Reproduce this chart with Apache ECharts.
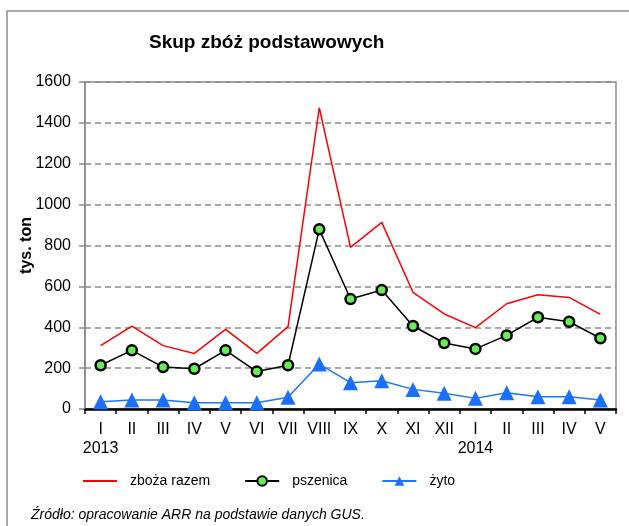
<!DOCTYPE html>
<html>
<head>
<meta charset="utf-8">
<script src="https://cdn.jsdelivr.net/npm/echarts@6/dist/echarts.min.js"></script>
<style>
  html, body { margin: 0; padding: 0; background: #fff; }
  #chart { width: 629px; height: 526px; }
</style>
</head>
<body>
<div id="chart"></div>
<script>
// miesiace: 2013 I-XII, 2014 I-V
var months = ['I\n2013', 'II', 'III', 'IV', 'V', 'VI', 'VII', 'VIII', 'IX', 'X', 'XI', 'XII',
              'I\n2014', 'II', 'III', 'IV', 'V'];
var zbozaRazem = [310, 405, 310, 272, 390, 272, 403, 1474, 791, 913, 571, 465, 398, 515, 559, 546, 463];
var pszenica = [214, 287, 205, 197, 287, 183, 214, 879, 538, 582, 406, 323, 294, 360, 449, 427, 346];
var zyto = [36, 44, 44, 31, 31, 31, 57, 220, 129, 138, 96, 77, 52, 80, 60, 60, 44];
var yTicks = [0, 200, 400, 600, 800, 1000, 1200, 1400, 1600];

var font = 'Liberation Sans, Arial, sans-serif';
var chart = echarts.init(document.getElementById('chart'));

var option = {
    animation: false,
    backgroundColor: '#fff',
    textStyle: { fontFamily: font },
    title: {
        text: 'Skup zbóż podstawowych',
        left: 144,
        top: 28,
        textStyle: { fontFamily: font, fontSize: 19, fontWeight: 'bold', color: '#000' }
    },
    graphic: [
        {
            type: 'rect',
            shape: { x: 7, y: 11, width: 640, height: 540 },
            style: { fill: 'none', stroke: '#8c8c8c', lineWidth: 1.5 },
            silent: true
        },
        {
            type: 'text',
            left: 31,
            top: 508,
            style: {
                text: 'Źródło: opracowanie ARR na podstawie danych GUS.',
                font: 'italic 14px ' + font,
                fill: '#000'
            }
        }
    ],
    legend: {
        left: 77,
        top: 469,
        itemWidth: 34,
        itemHeight: 12,
        itemGap: 34,
        textStyle: { fontFamily: font, fontSize: 14, color: '#000', padding: [0, 0, 0, 8] },
        data: [
            { name: 'zboża razem', itemStyle: { opacity: 0 } },
            'pszenica',
            'żyto'
        ]
    },
    grid: {
        left: 85,
        right: 13,
        top: 82,
        bottom: 117,
        show: true,
        borderColor: '#8c8c8c',
        borderWidth: 1.5
    },
    xAxis: {
        type: 'category',
        data: months,
        boundaryGap: true,
        axisLine: { lineStyle: { color: '#000', width: 2.5 } },
        axisTick: { show: true, length: 5, interval: 0, lineStyle: { color: '#000', width: 1.5 } },
        axisLabel: { color: '#000', fontSize: 16, fontFamily: font, margin: 11, lineHeight: 19, interval: 0 }
    },
    yAxis: {
        type: 'value',
        min: yTicks[0],
        max: yTicks[yTicks.length - 1],
        interval: 200,
        name: 'tys. ton',
        nameLocation: 'middle',
        nameGap: 50,
        nameMoveOverlap: false,
        nameRotate: 90,
        nameTextStyle: { fontFamily: font, fontSize: 16, fontWeight: 'bold', color: '#000' },
        axisLine: { show: true, lineStyle: { color: '#8c8c8c', width: 1.5 } },
        axisTick: { show: true, length: 6, lineStyle: { color: '#8c8c8c', width: 1.5 } },
        axisLabel: {
            color: '#000', fontSize: 16, fontFamily: font, margin: 14,
            formatter: function (v) { return String(v); }
        },
        splitLine: { lineStyle: { color: '#8c8c8c', width: 1.5, type: [6, 4] } }
    },
    series: [
        {
            name: 'zboża razem',
            type: 'line',
            data: zbozaRazem,
            symbol: 'none',
            lineStyle: { color: '#ff0000', width: 1.5 },
            itemStyle: { color: '#ff0000' },
            z: 2
        },
        {
            name: 'pszenica',
            type: 'line',
            data: pszenica,
            symbol: 'circle',
            symbolSize: 10,
            lineStyle: { color: '#000', width: 1.5 },
            itemStyle: { color: '#66ee55', borderColor: '#000', borderWidth: 2.5 },
            z: 3
        },
        {
            name: 'żyto',
            type: 'line',
            data: zyto,
            symbol: 'triangle',
            symbolSize: 15,
            lineStyle: { color: '#1a75ff', width: 1.5 },
            itemStyle: { color: '#1a6fff' },
            z: 4
        }
    ]
};

chart.setOption(option);
</script>
</body>
</html>
